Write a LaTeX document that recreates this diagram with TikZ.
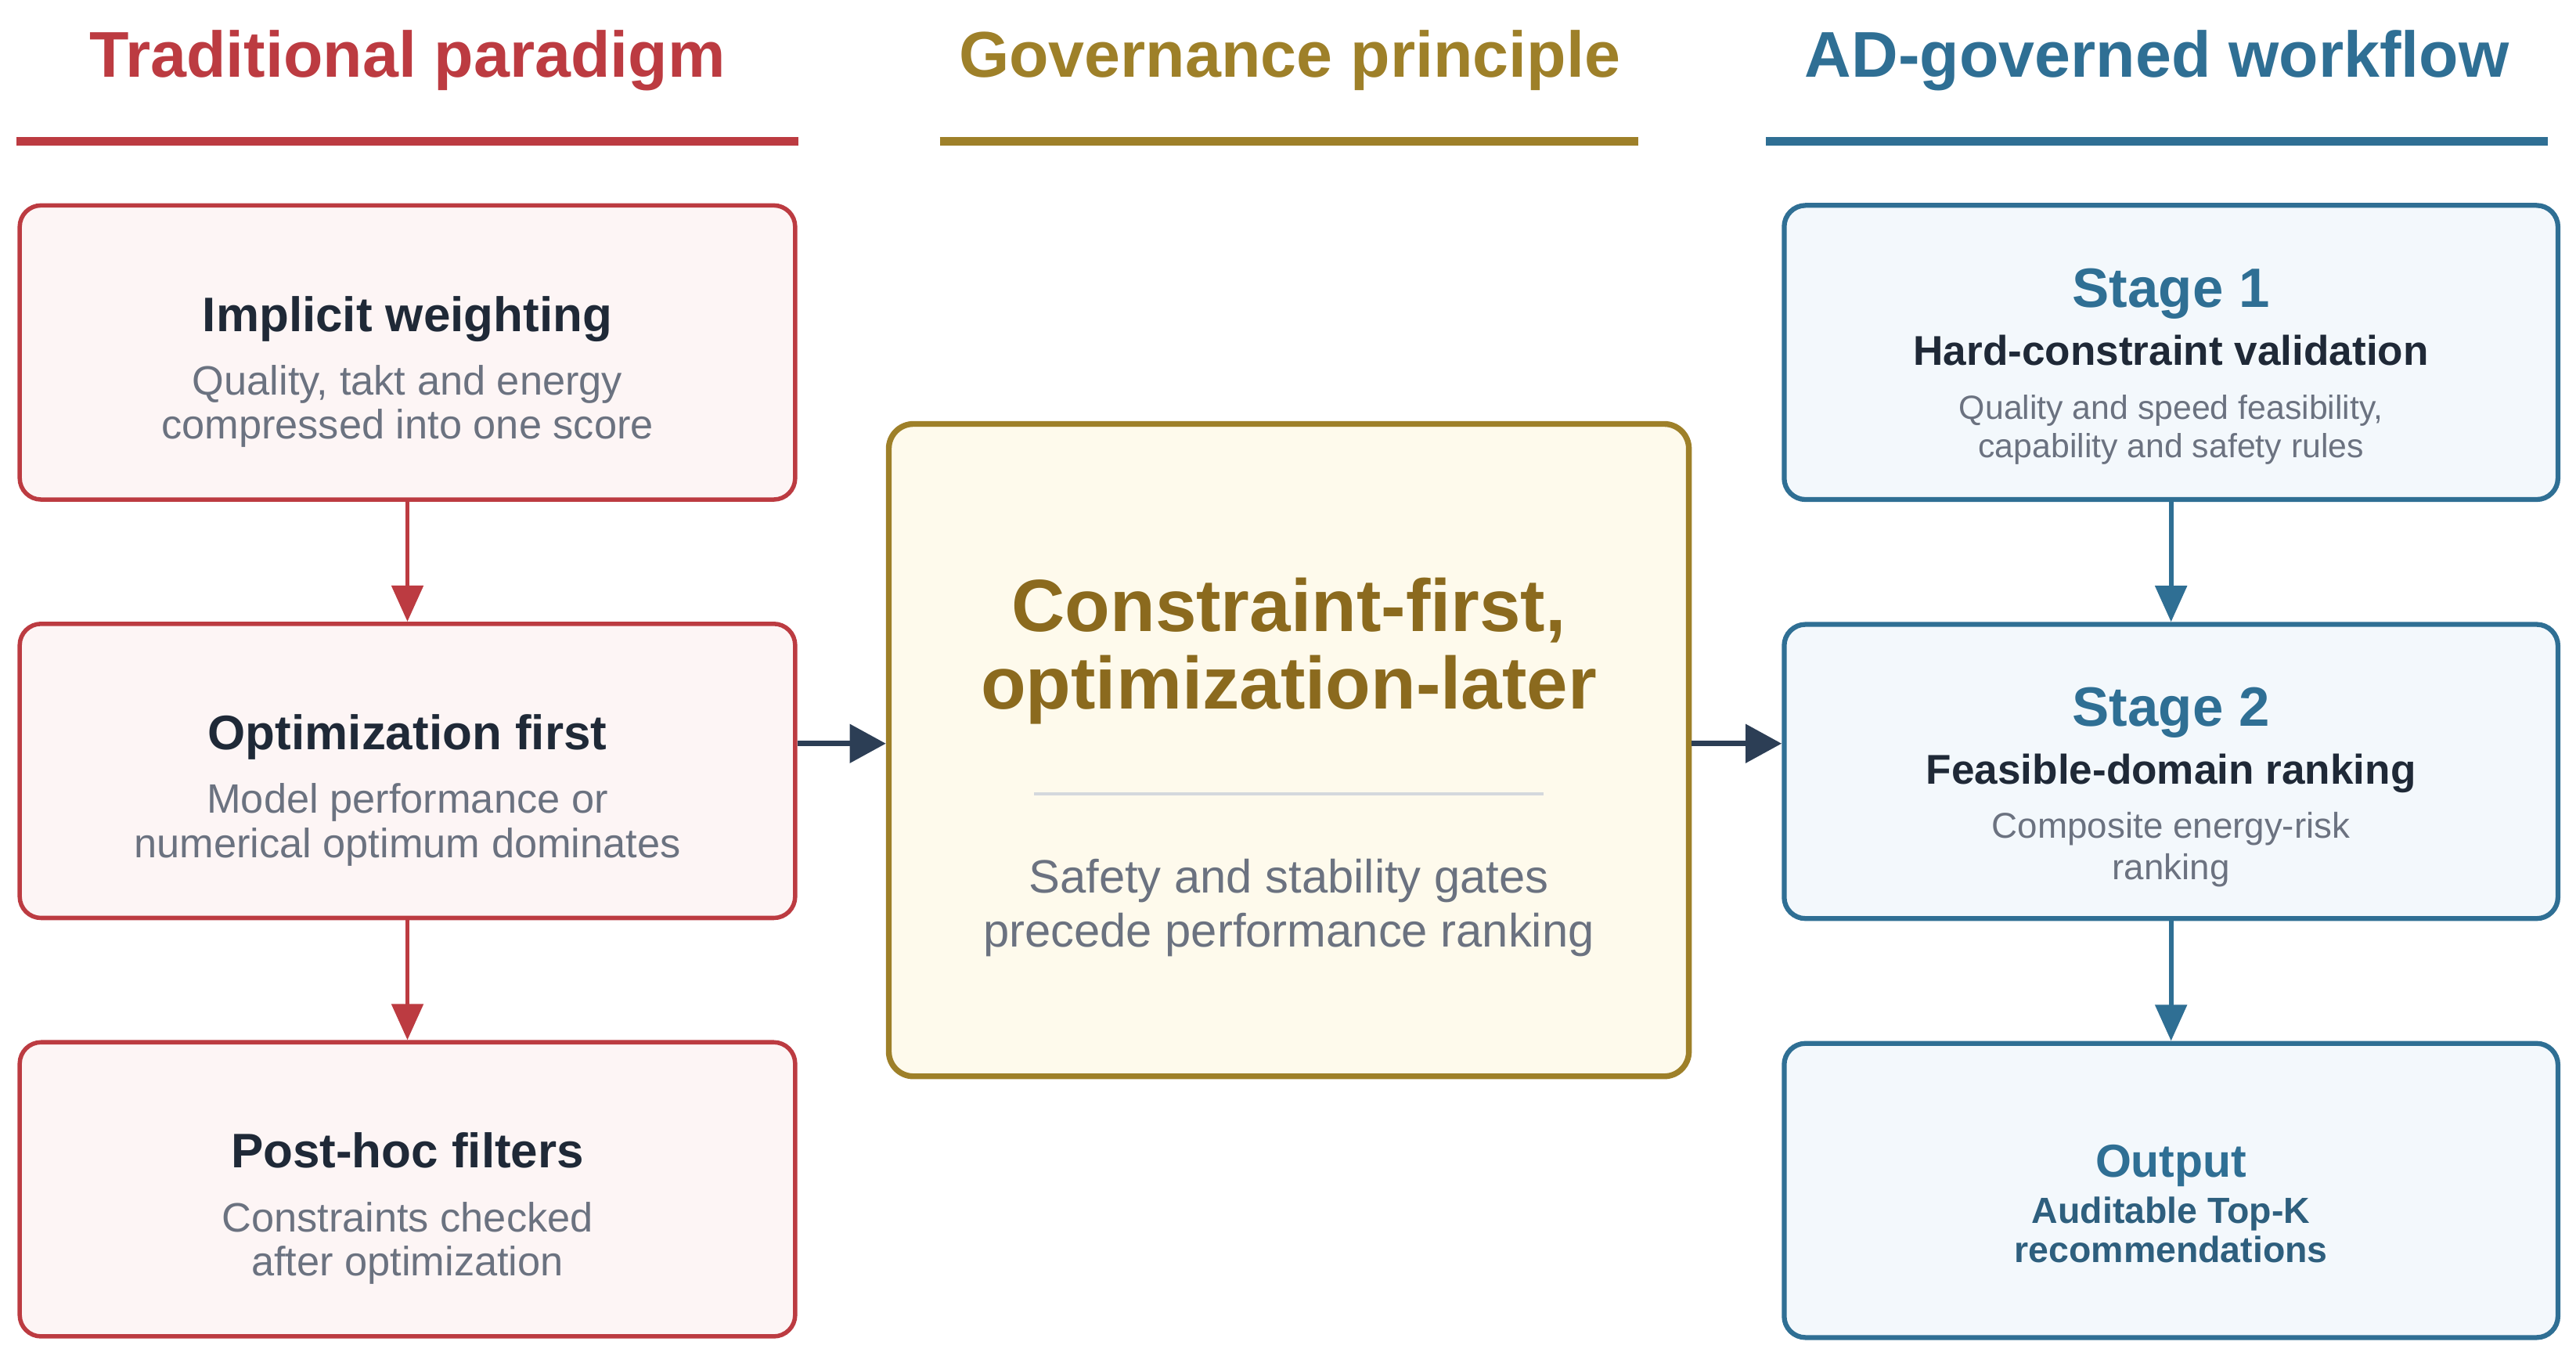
\documentclass[tikz,border=0pt]{standalone}
\usepackage{fontspec}
\setmainfont{Liberation Sans}
\usetikzlibrary{arrows.meta,positioning}

\definecolor{tradred}{HTML}{BC3B41}
\definecolor{tradfill}{HTML}{FDF5F5}
\definecolor{govgold}{HTML}{9E8029}
\definecolor{govtext}{HTML}{8B6A1E}
\definecolor{govfill}{HTML}{FEFAEC}
\definecolor{adblue}{HTML}{2F6F94}
\definecolor{adfill}{HTML}{F3F8FC}
\definecolor{adtext}{HTML}{2E5F7E}
\definecolor{inkdark}{HTML}{1F2937}
\definecolor{descgray}{HTML}{6B7280}
\definecolor{arrownavy}{HTML}{2C3E55}
\definecolor{rulegray}{HTML}{D4D8DD}

\newcommand{\fs}[1]{\fontsize{#1}{0}\selectfont}
\newcommand{\flatlines}{\lineskiplimit=-100pt\lineskip=0pt}

\begin{document}
\begin{tikzpicture}[
    headline/.style={font=\fs{11.2}\bfseries, anchor=base, inner sep=0pt},
    tradbox/.style={
      rectangle,
      rounded corners=0.13cm,
      draw=tradred,
      fill=tradfill,
      line width=0.75pt,
      minimum width=4.72cm,
      minimum height=1.79cm,
      inner sep=0pt,
      align=center,
      text=descgray,
      font=\fs{7.1}\flatlines},
    govbox/.style={
      rectangle,
      rounded corners=0.15cm,
      draw=govgold,
      fill=govfill,
      line width=1pt,
      minimum width=4.87cm,
      minimum height=3.97cm,
      inner sep=0pt,
      align=center,
      text=descgray,
      font=\fs{8.1}\flatlines},
    adbox/.style={
      rectangle,
      rounded corners=0.13cm,
      draw=adblue,
      fill=adfill,
      line width=0.85pt,
      minimum width=4.71cm,
      minimum height=1.79cm,
      inner sep=0pt,
      align=center,
      text=descgray,
      font=\fs{5.8}\flatlines},
    flow/.style={-{Triangle[length=0.22cm,width=0.19cm]}, line width=0.8pt},
    bigflow/.style={-{Triangle[length=0.22cm,width=0.23cm]}, line width=1pt, arrownavy},
    node distance=0.73cm
  ]
  \useasboundingbox (0,0) rectangle (15.68,8.25);

  % column headings
  \node[headline, text=tradred] (ttrad) at (2.48,7.78) {Traditional paradigm};
  \node[headline, text=govgold] (tgov) at (7.85,7.78) {Governance principle};
  \node[headline, text=adblue] (tad) at (13.13,7.78) {AD-governed workflow};
  \draw[tradred, line width=1.4pt] (0.10,7.39) -- (4.86,7.39);
  \draw[govgold, line width=1.4pt] (5.72,7.39) -- (9.97,7.39);
  \draw[adblue, line width=1.4pt] (10.75,7.39) -- (15.51,7.39);

  % traditional paradigm
  \node[tradbox] (imp) at (2.48,6.105) {{\color{inkdark}\fs{8.4}\bfseries\rule{0pt}{12.8pt}Implicit weighting}\\[11pt]Quality, takt and energy\\[7.7pt]compressed into one score};
  \node[tradbox, below=of imp] (opt) {{\color{inkdark}\fs{8.4}\bfseries\rule{0pt}{12.8pt}Optimization first}\\[11pt]Model performance or\\[7.7pt]numerical optimum dominates};
  \node[tradbox, below=of opt] (post) {{\color{inkdark}\fs{8.4}\bfseries\rule{0pt}{12.8pt}Post-hoc filters}\\[11pt]Constraints checked\\[7.7pt]after optimization};

  % governance principle
  \node[govbox] (core) at (7.845,3.685) {{\color{govtext}\fs{12.8}\bfseries\rule{0pt}{15.2pt}Constraint-first,}\\[13.4pt]{\color{govtext}\fs{12.8}\bfseries optimization-later}\\[31.9pt]Safety and stability gates\\[9.4pt]precede performance ranking};
  \draw[rulegray, line width=0.6pt] ([xshift=-1.55cm,yshift=-0.265cm]core.center) -- ([xshift=1.55cm,yshift=-0.265cm]core.center);
  \coordinate (corein) at ([yshift=0.04cm]core.west);
  \coordinate (coreout) at ([yshift=0.04cm]core.east);

  % AD-governed workflow
  \node[adbox] (st1) at (13.215,6.105) {{\color{adblue}\fs{9.6}\bfseries\rule{0pt}{11.6pt}Stage 1}\\[10pt]{\color{inkdark}\fs{7.2}\bfseries Hard-constraint validation}\\[9.4pt]Quality and speed feasibility,\\[6.6pt]capability and safety rules};
  \node[adbox, below=of st1, font=\fs{6.2}\flatlines] (st2) {{\color{adblue}\fs{9.6}\bfseries\rule{0pt}{12.15pt}Stage 2}\\[10pt]{\color{inkdark}\fs{7.2}\bfseries Feasible-domain ranking}\\[9.4pt]Composite energy-risk\\[7.1pt]ranking};
  \node[adbox, below=of st2] (out) {{\color{adblue}\fs{8}\bfseries\rule{0pt}{10.2pt}Output}\\[8.1pt]{\color{adtext}\fs{6.3}\bfseries Auditable Top-K}\\[6.8pt]{\color{adtext}\fs{6.3}\bfseries recommendations}};

  % arrows
  \draw[flow, tradred] (imp) -- (opt);
  \draw[flow, tradred] (opt) -- (post);
  \draw[flow, adblue] (st1) -- (st2);
  \draw[flow, adblue] (st2) -- (out);
  \draw[bigflow] (opt.east |- corein) -- (corein);
  \draw[bigflow] (coreout) -- (st2.west |- coreout);
\end{tikzpicture}
\end{document}
